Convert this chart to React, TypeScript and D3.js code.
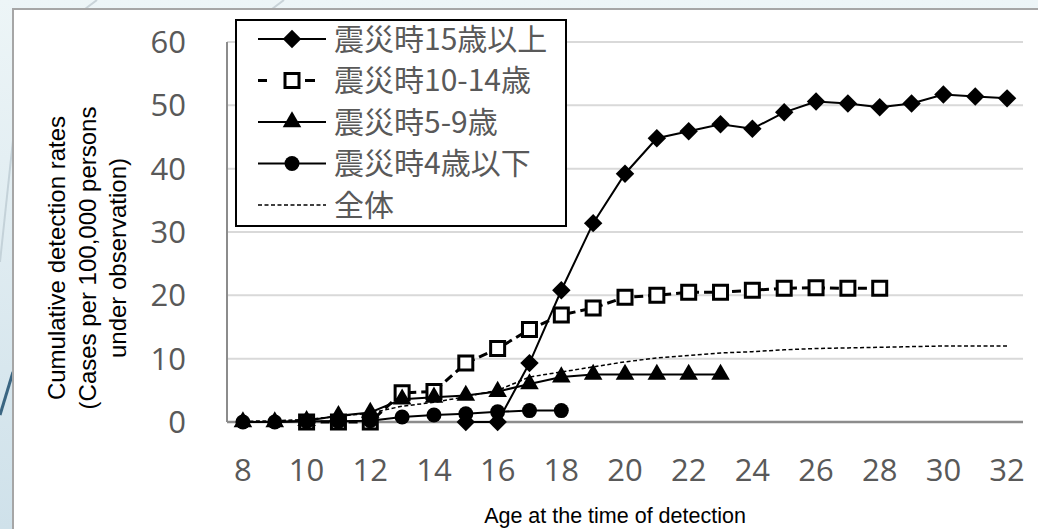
import React from "react";
import * as d3 from "d3";

// ages on the category axis
const ages = [8, 9, 10, 11, 12, 13, 14, 15, 16, 17, 18, 19, 20, 21, 22, 23, 24, 25, 26, 27, 28, 29, 30, 31, 32];
const xTickAges = [8, 10, 12, 14, 16, 18, 20, 22, 24, 26, 28, 30, 32];
const yTicks = [0, 10, 20, 30, 40, 50, 60];

// 震災時15歳以上 : ages 15-32
const over15 = [0, 0, 9.3, 20.8, 31.4, 39.2, 44.8, 45.9, 47.0, 46.3, 48.9, 50.6, 50.3, 49.7, 50.3, 51.7, 51.4, 51.1];
// 震災時10-14歳 : ages 10-28
const age10to14 = [0, 0, 0, 4.6, 4.8, 9.3, 11.6, 14.6, 16.9, 18.0, 19.7, 20.0, 20.5, 20.5, 20.8, 21.1, 21.2, 21.1, 21.1];
// 震災時5-9歳 : ages 8-23
const age5to9 = [0, 0, 0.2, 1.0, 1.5, 3.6, 3.9, 4.2, 4.8, 6.0, 7.1, 7.5, 7.5, 7.5, 7.5, 7.5];
// 震災時4歳以下 : ages 8-18
const under4 = [0, 0, 0.1, 0.1, 0.2, 0.8, 1.1, 1.3, 1.6, 1.8, 1.8];
// 全体 : ages 8-32
const overall = [0.1, 0.2, 0.4, 0.9, 1.4, 2.5, 3.1, 4.0, 5.0, 7.1, 7.9, 8.7, 9.5, 10.1, 10.5, 10.9, 11.1, 11.4, 11.6, 11.7, 11.8, 11.9, 12.0, 12.0, 12.0];

const seriesNames = ["震災時15歳以上", "震災時10-14歳", "震災時5-9歳", "震災時4歳以下", "全体"];
const seriesStart = [15, 10, 8, 8, 8];
const seriesValues = [over15, age10to14, age5to9, under4, overall];

const W = 1038;
const H = 529;

const x = d3.scaleLinear().domain([7.5, 32.5]).range([227, 1023]);
const y = d3.scaleLinear().domain([0, 60]).range([422, 42]);

type Pt = { age: number; v: number };

const toPoints = (i: number): Pt[] => {
  const start = ages.indexOf(seriesStart[i]);
  return seriesValues[i].map((v, j) => ({ age: ages[start + j], v }));
};

const line = d3
  .line<Pt>()
  .x((d) => x(d.age))
  .y((d) => y(d.v));

const diamond = d3.symbol(d3.symbolSquare, 170)();
const square = d3.symbol(d3.symbolSquare, 196)();
const triangle = d3.symbol(d3.symbolTriangle, 150)();

const styles = [
  { dash: "none", width: 2, marker: "diamond" },
  { dash: "9,5", width: 3, marker: "square" },
  { dash: "none", width: 2, marker: "triangle" },
  { dash: "none", width: 2, marker: "circle" },
  { dash: "4,2.5", width: 1.5, marker: "none" },
];

const Marker = ({ kind, cx, cy }: { kind: string; cx: number; cy: number }) => {
  if (kind === "diamond")
    return <path d={diamond!} transform={`translate(${cx},${cy}) rotate(45)`} fill="#000" />;
  if (kind === "square")
    return <path d={square!} transform={`translate(${cx},${cy})`} fill="#fff" stroke="#000" strokeWidth={3} />;
  if (kind === "triangle")
    return <path d={triangle!} transform={`translate(${cx},${cy})`} fill="#000" />;
  if (kind === "circle") return <circle cx={cx} cy={cy} r={7.5} fill="#000" />;
  return null;
};

const tickFont = "'Open Sans', 'Noto Sans', sans-serif";
const titleFont = "'Liberation Sans', Arial, sans-serif";
const cjkFont = "'Noto Sans CJK JP', 'Noto Sans', sans-serif";

export default function App() {
  const legendX = 236;
  const legendY = 20;
  const rowH = 41.5;

  return (
    <svg
      width={W}
      height={H}
      style={{ position: "absolute", left: 0, top: 0, display: "block" }}
    >
      <defs>
        <linearGradient id="bg" x1="0" y1="0" x2="0" y2="1">
          <stop offset="0" stopColor="#edf5f7" />
          <stop offset="1" stopColor="#cfe1ea" />
        </linearGradient>
      </defs>
      {/* slide background */}
      <rect x={0} y={0} width={W} height={H} fill="url(#bg)" />
      <line x1={85} y1={9} x2={97} y2={0} stroke="#c9d3d8" strokeWidth={2} />
      <line x1={272} y1={9} x2={284} y2={0} stroke="#c9d3d8" strokeWidth={2} />
      <line x1={0} y1={262} x2={13} y2={140} stroke="#c4d2d9" strokeWidth={2} />
      <line x1={0} y1={415} x2={13} y2={372} stroke="#3b6682" strokeWidth={3} />

      {/* chart frame */}
      <rect x={13} y={9} width={W} height={H} fill="#fff" stroke="#a6a6a6" strokeWidth={2} />

      {/* gridlines */}
      {yTicks.slice(1).map((t) => (
        <line key={t} x1={x(7.5)} x2={x(32.5)} y1={y(t)} y2={y(t)} stroke="#d9d9d9" strokeWidth={2} />
      ))}
      {/* axes */}
      <line x1={x(7.5)} x2={x(7.5)} y1={y(60)} y2={y(0)} stroke="#8c8c8c" strokeWidth={2} />
      <line x1={x(7.5)} x2={x(32.5)} y1={y(0)} y2={y(0)} stroke="#8c8c8c" strokeWidth={2.5} />

      {/* y tick labels */}
      {yTicks.map((t) => (
        <text key={t} x={186} y={y(t)} dy="0.36em" textAnchor="end" fontFamily={tickFont} fontSize={31} fill="#595959">
          {t}
        </text>
      ))}
      {/* x tick labels */}
      {xTickAges.map((a) => (
        <text key={a} x={x(a)} y={470} dy="0.36em" textAnchor="middle" fontFamily={tickFont} fontSize={31} fill="#595959">
          {a}
        </text>
      ))}

      {/* axis titles */}
      <g transform="translate(88,258) rotate(-90)" fontFamily={titleFont} fontSize={24} fill="#000" textAnchor="middle">
        <text x={0} y={-31} dy="0.35em">Cumulative detection rates</text>
        <text x={0} y={0} dy="0.35em">(Cases per 100,000 persons</text>
        <text x={0} y={30} dy="0.35em">under observation)</text>
      </g>
      <text x={615} y={515} dy="0.35em" textAnchor="middle" fontFamily={titleFont} fontSize={21.5} fill="#000">
        Age at the time of detection
      </text>

      {/* series */}
      {seriesValues.map((_, i) => {
        const pts = toPoints(i);
        const s = styles[i];
        return (
          <g key={i}>
            <path
              d={line(pts)!}
              fill="none"
              stroke="#000"
              strokeWidth={s.width}
              strokeDasharray={s.dash}
            />
            {pts.map((p) => (
              <Marker key={p.age} kind={s.marker} cx={x(p.age)} cy={y(p.v)} />
            ))}
          </g>
        );
      })}

      {/* legend */}
      <rect x={legendX} y={legendY} width={330} height={206} fill="#fff" stroke="#000" strokeWidth={2} />
      {seriesNames.map((name, i) => {
        const s = styles[i];
        const cy = 39 + i * rowH;
        return (
          <g key={name}>
            {s.marker === "square" ? (
              <g>
                <line x1={258} x2={267} y1={cy} y2={cy} stroke="#000" strokeWidth={3} />
                <line x1={305} x2={315} y1={cy} y2={cy} stroke="#000" strokeWidth={3} />
              </g>
            ) : (
              <line
                x1={258}
                x2={326}
                y1={cy}
                y2={cy}
                stroke="#000"
                strokeWidth={s.width}
                strokeDasharray={s.dash}
              />
            )}
            <Marker kind={s.marker} cx={292} cy={cy} />
            <text x={334} y={cy} dy="0.36em" fontFamily={cjkFont} fontSize={30} fill="#595959">
              {name}
            </text>
          </g>
        );
      })}
    </svg>
  );
}
